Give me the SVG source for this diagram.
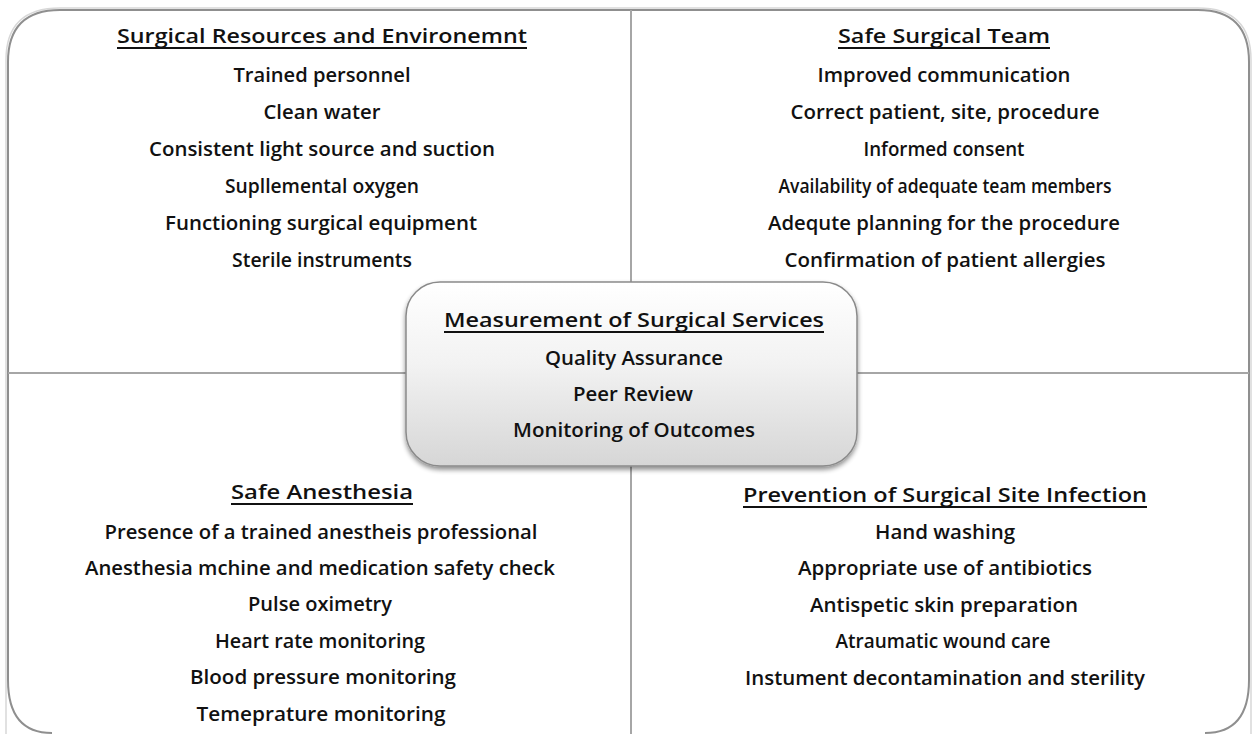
<svg xmlns="http://www.w3.org/2000/svg" width="1255" height="734" viewBox="0 0 1255 734">
  <defs>
    <linearGradient id="boxGrad" x1="0" y1="0" x2="0" y2="1">
      <stop offset="0" stop-color="#ffffff"/>
      <stop offset="0.45" stop-color="#f2f2f2"/>
      <stop offset="1" stop-color="#d6d6d6"/>
    </linearGradient>
    <filter id="shadow" x="-10%" y="-10%" width="120%" height="130%">
      <feGaussianBlur in="SourceAlpha" stdDeviation="2.5"/>
      <feOffset dx="0" dy="3" result="b"/>
      <feComponentTransfer><feFuncA type="linear" slope="0.45"/></feComponentTransfer>
      <feMerge><feMergeNode/><feMergeNode in="SourceGraphic"/></feMerge>
    </filter>
  </defs>
  <style>
    text { font-family: "Open Sans", "Liberation Sans", sans-serif; font-weight: 600; font-size: 20px; fill: #111111; text-anchor: middle; }
    .hd { text-decoration: underline; }
    .ul { stroke: #111111; stroke-width: 2; }
    .frame { fill: none; stroke: #8f8f8f; stroke-width: 2; }
    .frame2 { fill: none; stroke: #d8d8d8; stroke-width: 1.5; }
    .div { stroke: #a6a6a6; stroke-width: 2; }
  </style>
  <rect width="1255" height="734" fill="#ffffff"/>

  <g id="frame">
    <path class="frame2" d="M 6 740 L 6 60 Q 6 8 60 8 L 1198 8 Q 1251 8 1251 60 L 1251 740"/>
    <path class="frame" d="M 60 10 L 1198 10 Q 1249 10 1249 62 L 1249 680 Q 1249 733 1205 733 M 60 10 Q 8 10 8 62 L 8 680 Q 8 733 52 733"/>
  </g>

  <g id="connectors">
    <line class="div" x1="631" y1="10" x2="631" y2="283"/>
    <line class="div" x1="631" y1="466" x2="631" y2="734"/>
    <line class="div" x1="8" y1="373" x2="406" y2="373"/>
    <line class="div" x1="857" y1="373" x2="1249" y2="373"/>
  </g>

  <g id="surgical-resources">
    <text x="322" y="43" textLength="410" lengthAdjust="spacingAndGlyphs">Surgical Resources and Environemnt</text>
    <line class="ul" x1="117" y1="48" x2="527" y2="48"/>
    <text x="322" y="82" textLength="177" lengthAdjust="spacingAndGlyphs">Trained personnel</text>
    <text x="322" y="119" textLength="117" lengthAdjust="spacingAndGlyphs">Clean water</text>
    <text x="322" y="156" textLength="346" lengthAdjust="spacingAndGlyphs">Consistent light source and suction</text>
    <text x="322" y="193" textLength="194" lengthAdjust="spacingAndGlyphs">Supllemental oxygen</text>
    <text x="321" y="230" textLength="312" lengthAdjust="spacingAndGlyphs">Functioning surgical equipment</text>
    <text x="322" y="267" textLength="180" lengthAdjust="spacingAndGlyphs">Sterile instruments</text>
  </g>

  <g id="safe-surgical-team">
    <text x="944" y="43" textLength="212" lengthAdjust="spacingAndGlyphs">Safe Surgical Team</text>
    <line class="ul" x1="838" y1="48" x2="1050" y2="48"/>
    <text x="944" y="82" textLength="253" lengthAdjust="spacingAndGlyphs">Improved communication</text>
    <text x="945" y="119" textLength="309" lengthAdjust="spacingAndGlyphs">Correct patient, site, procedure</text>
    <text x="944" y="156" textLength="161" lengthAdjust="spacingAndGlyphs">Informed consent</text>
    <text x="945" y="193" textLength="333" lengthAdjust="spacingAndGlyphs">Availability of adequate team members</text>
    <text x="944" y="230" textLength="352" lengthAdjust="spacingAndGlyphs">Adequte planning for the procedure</text>
    <text x="945" y="267" textLength="321" lengthAdjust="spacingAndGlyphs">Confirmation of patient allergies</text>
  </g>

  <g id="safe-anesthesia">
    <text x="322" y="499" textLength="182" lengthAdjust="spacingAndGlyphs">Safe Anesthesia</text>
    <line class="ul" x1="231" y1="504" x2="413" y2="504"/>
    <text x="321" y="539" textLength="433" lengthAdjust="spacingAndGlyphs">Presence of a trained anestheis professional</text>
    <text x="320" y="575" textLength="470" lengthAdjust="spacingAndGlyphs">Anesthesia mchine and medication safety check</text>
    <text x="320" y="611" textLength="144" lengthAdjust="spacingAndGlyphs">Pulse oximetry</text>
    <text x="320" y="648" textLength="210" lengthAdjust="spacingAndGlyphs">Heart rate monitoring</text>
    <text x="323" y="684" textLength="266" lengthAdjust="spacingAndGlyphs">Blood pressure monitoring</text>
    <text x="321" y="721" textLength="249" lengthAdjust="spacingAndGlyphs">Temeprature monitoring</text>
  </g>

  <g id="prevention-ssi">
    <text x="945" y="502" textLength="404" lengthAdjust="spacingAndGlyphs">Prevention of Surgical Site Infection</text>
    <line class="ul" x1="743" y1="507" x2="1147" y2="507"/>
    <text x="945" y="539" textLength="140" lengthAdjust="spacingAndGlyphs">Hand washing</text>
    <text x="945" y="575" textLength="294" lengthAdjust="spacingAndGlyphs">Appropriate use of antibiotics</text>
    <text x="944" y="612" textLength="268" lengthAdjust="spacingAndGlyphs">Antispetic skin preparation</text>
    <text x="943" y="648" textLength="215" lengthAdjust="spacingAndGlyphs">Atraumatic wound care</text>
    <text x="945" y="685" textLength="400" lengthAdjust="spacingAndGlyphs">Instument decontamination and sterility</text>
  </g>

  <g id="measurement">
    <rect x="406" y="282" width="451" height="184" rx="34" ry="34" fill="url(#boxGrad)" stroke="#8a8a8a" stroke-width="1.5" filter="url(#shadow)"/>
    <text x="634" y="327" textLength="380" lengthAdjust="spacingAndGlyphs">Measurement of Surgical Services</text>
    <line class="ul" x1="444" y1="332" x2="824" y2="332"/>
    <text x="634" y="365" textLength="178" lengthAdjust="spacingAndGlyphs">Quality Assurance</text>
    <text x="633" y="401" textLength="120" lengthAdjust="spacingAndGlyphs">Peer Review</text>
    <text x="634" y="437" textLength="242" lengthAdjust="spacingAndGlyphs">Monitoring of Outcomes</text>
  </g>
</svg>
